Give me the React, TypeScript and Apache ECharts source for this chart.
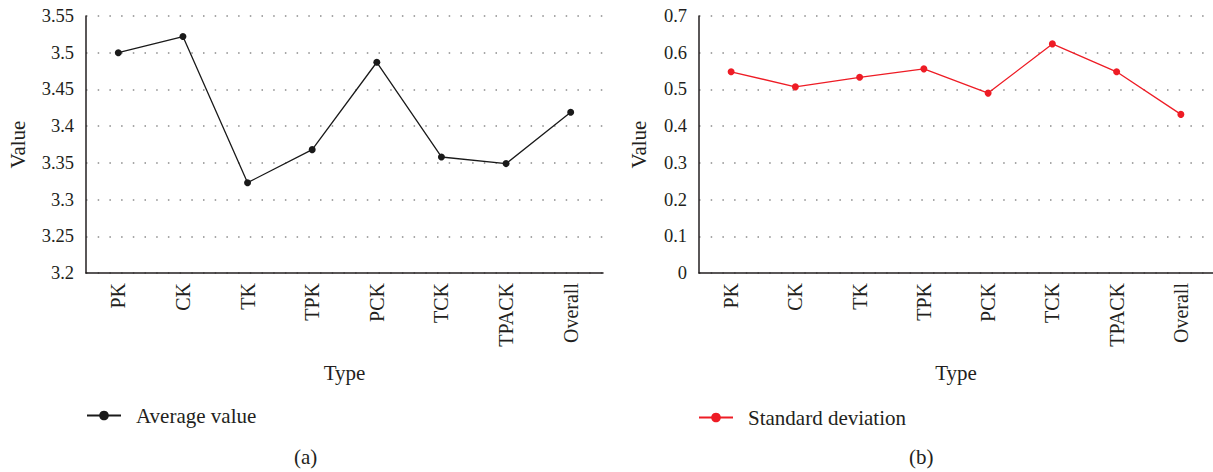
import React, { useEffect, useRef } from "react";
import * as echarts from "echarts";

const categories = ["PK", "CK", "TK", "TPK", "PCK", "TCK", "TPACK", "Overall"];
const averageValues = [3.5, 3.522, 3.323, 3.368, 3.487, 3.358, 3.349, 3.419];
const stdValues = [0.548, 0.507, 0.533, 0.556, 0.49, 0.624, 0.548, 0.432];
const seriesNames = ["Average value", "Standard deviation"];
const panelLabels = ["(a)", "(b)"];

const FONT = "Liberation Serif";
const FS = 21;
const TXT = "#231f20";

function xAxisCfg(gridIndex: number) {
  return {
    type: "category",
    gridIndex,
    data: categories,
    boundaryGap: true,
    name: "Type",
    nameLocation: "middle",
    nameGap: 89,
    nameTextStyle: { fontFamily: FONT, fontSize: FS, color: TXT },
    axisLine: { lineStyle: { color: "#231f20", width: 1.5 } },
    axisTick: { show: false },
    axisLabel: { rotate: 90, margin: 10, fontFamily: FONT, fontSize: 20, color: TXT },
    splitLine: { show: false },
  };
}

function yAxisCfg(gridIndex: number, min: number, max: number, interval: number, nameGap: number) {
  return {
    type: "value",
    gridIndex,
    min,
    max,
    interval,
    name: "Value",
    nameLocation: "middle",
    nameRotate: 90,
    nameGap,
    nameTextStyle: { fontFamily: FONT, fontSize: FS, color: TXT },
    axisLine: { show: true, lineStyle: { color: "#231f20", width: 1.5 } },
    axisTick: { show: false },
    axisLabel: {
      margin: 12,
      fontFamily: FONT,
      fontSize: 18.5,
      color: TXT,
      formatter: (v: number) => String(Math.round(v * 100) / 100),
    },
    splitLine: { show: true, lineStyle: { color: "#8a8a8a", width: 1.5, type: [1.5, 10.2] } },
  };
}

export default function App() {
  const ref = useRef<HTMLDivElement>(null);
  useEffect(() => {
    if (!ref.current) return;
    const chart = echarts.init(ref.current, null, { renderer: "svg" });
    chart.setOption({
      animation: false,
      backgroundColor: "#ffffff",
      grid: [
        { left: 86, top: 16, width: 517, height: 257 },
        { left: 699, top: 16, width: 517, height: 257 },
      ],
      xAxis: [xAxisCfg(0), xAxisCfg(1)],
      yAxis: [yAxisCfg(0, 3.2, 3.55, 0.05, 58), yAxisCfg(1, 0, 0.7, 0.1, 50)],
      legend: [
        {
          data: [seriesNames[0]],
          left: 81,
          top: 400,
          itemWidth: 34,
          itemHeight: 12,
          textStyle: { fontFamily: FONT, fontSize: FS, color: TXT, padding: [0, 0, 0, 10] },
        },
        {
          data: [seriesNames[1]],
          left: 693,
          top: 402,
          itemWidth: 34,
          itemHeight: 12,
          textStyle: { fontFamily: FONT, fontSize: FS, color: TXT, padding: [0, 0, 0, 10] },
        },
      ],
      graphic: [
        {
          type: "text",
          left: 294,
          top: 446,
          style: { text: panelLabels[0], font: `${FS}px "${FONT}"`, fill: TXT },
        },
        {
          type: "text",
          left: 909,
          top: 446,
          style: { text: panelLabels[1], font: `${FS}px "${FONT}"`, fill: TXT },
        },
      ],
      series: [
        {
          name: seriesNames[0],
          type: "line",
          xAxisIndex: 0,
          yAxisIndex: 0,
          data: averageValues,
          symbol: "circle",
          symbolSize: 7,
          itemStyle: { color: "#1a1a1a" },
          lineStyle: { color: "#1a1a1a", width: 1.3 },
        },
        {
          name: seriesNames[1],
          type: "line",
          xAxisIndex: 1,
          yAxisIndex: 1,
          data: stdValues,
          symbol: "circle",
          symbolSize: 7,
          itemStyle: { color: "#ee1c25" },
          lineStyle: { color: "#ee1c25", width: 1.3 },
        },
      ],
    });
    return () => chart.dispose();
  }, []);
  return (
    <div
      ref={ref}
      style={{ position: "fixed", left: 0, top: 0, width: 1213, height: 472, background: "#fff" }}
    />
  );
}
